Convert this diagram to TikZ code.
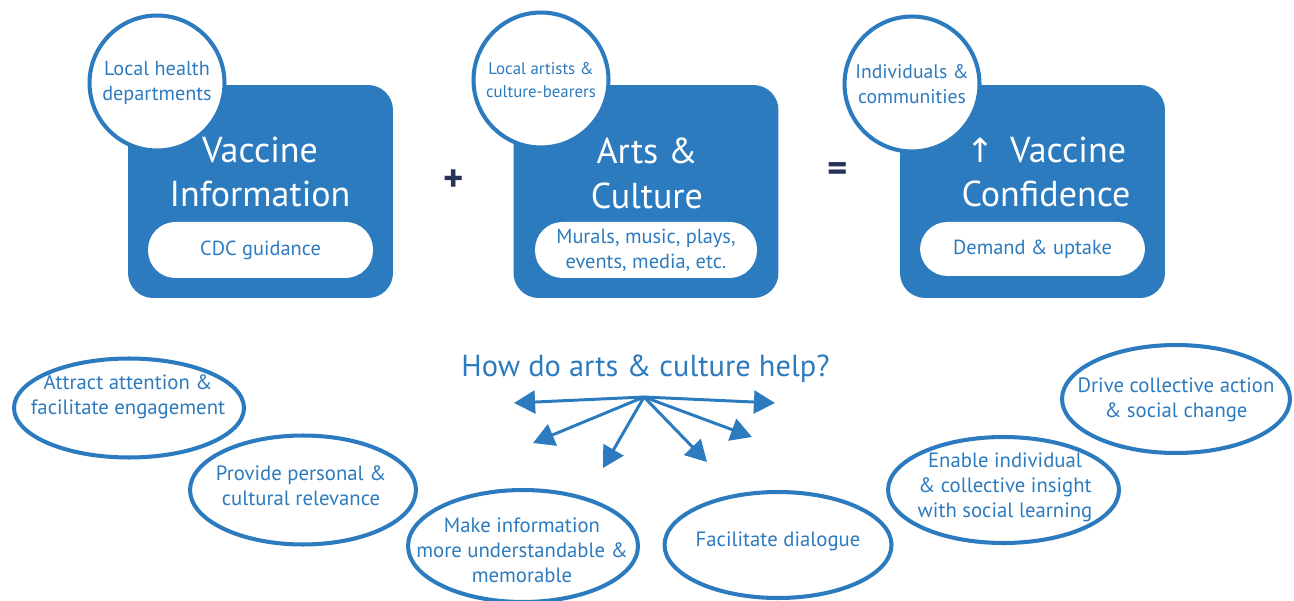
\documentclass[tikz,border=0pt]{standalone}
\usepackage{fontspec}
\setmainfont{PT Sans}
\newfontfamily\arrowfont{DejaVu Sans}
\usetikzlibrary{arrows.meta,positioning,shapes.geometric}
\definecolor{cblue}{RGB}{45,123,191}
\definecolor{cnavy}{RGB}{38,52,92}
\tikzset{
    %Define standard arrow tip
    >={Triangle[length=12pt,width=13pt]},
    %Define style for the blue boxes
    bigbox/.style={
           rectangle,
           rounded corners=0.5cm,
           fill=cblue,
           minimum width=5.3cm,
           minimum height=4.26cm,
           },
    boxtitle/.style={
           text=white,
           align=center,
           font=\fontsize{20.5}{25.5}\selectfont,
           },
    pill/.style={
           rectangle,
           rounded corners=0.55cm,
           fill=white,
           text=cblue,
           align=center,
           minimum width=4.5cm,
           minimum height=1.12cm,
           font=\fontsize{11.6}{14.2}\selectfont,
           },
    who/.style={
           circle,
           draw=cblue, line width=2.3pt,
           fill=white,
           text=cblue,
           align=center,
           minimum size=2.7cm,
           font=\fontsize{11.5}{14.2}\selectfont,
           },
    %Define style for the ellipses
    oval/.style={
           ellipse,
           draw=cblue, line width=2.3pt,
           fill=white,
           minimum width=4.6cm,
           minimum height=2.15cm,
           },
    ovaltext/.style={
           text=cblue,
           align=center,
           font=\fontsize{11.8}{14.2}\selectfont,
           },
    sign/.style={
           text=cnavy,
           font=\fontsize{22}{24}\selectfont\bfseries,
           },
    % Define arrow style
    pil/.style={
           ->,
           color=cblue,
           line width=1.7pt,},
}
\begin{document}
\begin{tikzpicture}[x=0.02cm,y=-0.02cm]
\useasboundingbox (0,0) rectangle (1294,601);
 %boxes
\node[bigbox] (vacbox) at (260.5,191.5) {};
\node[bigbox] (artbox) at (646,191.5) {};
\node[bigbox] (confbox) at (1032.5,191.5) {};
\node[boxtitle] (vactitle) at (260,172) {Vaccine\\Information};
\node[boxtitle] (arttitle) at (647,173) {Arts \&\\Culture};
\node[boxtitle] (conftitle) at (1046,172) {{\arrowfont\fontsize{19}{19}\selectfont ↑}\hspace{0.45em}Vaccine\\Confidence};
\node[pill, above=0.4cm of vacbox.south] (cdc) {CDC guidance};
\node[pill, above=0.4cm of artbox.south, minimum width=4.44cm] (murals) {Murals, music, plays,\\events, media, etc.};
\node[pill, above=0.44cm of confbox.south, minimum height=1.08cm] (demand) {Demand \& uptake};
 %circles
\node[who] (health) at (157,83) {Local health\\departments};
\node[who, font=\fontsize{9.6}{13}\selectfont] (artists) at (541,80) {Local artists \&\\culture-bearers};
\node[who, font=\fontsize{11.2}{14.2}\selectfont] (people) at (912,84) {Individuals \&\\communities};
\node[sign] (plus) at (454,181) {+};
\node[sign] (equals) at (838,172) {=};
 %question
\node[text=cblue, font=\fontsize{17.3}{20}\selectfont] (question) at (645.5,369) {How do arts \& culture help?};
\coordinate (hub) at (644,397);
\coordinate (tipl) at (514,403);
\coordinate (tipr) at (775,403);
\coordinate (tipll) at (533,443);
\coordinate (tipbl) at (603,468);
\coordinate (tipbr) at (707,462);
\coordinate (tiprr) at (752,437);
\path (hub) edge[pil] (tipl) edge[pil] (tipr) edge[pil] (tipll)
    edge[pil] (tipbl) edge[pil] (tipbr) edge[pil] (tiprr);
 %ellipses
\node[oval, minimum height=1.98cm] (attract) at (129,408) {};
\node[ovaltext] (attracttext) at (128,397) {Attract attention \&\\facilitate engagement};
\node[oval, minimum width=4.52cm, minimum height=2.18cm] (personal) at (303,490) {};
\node[ovaltext] (personaltext) at (301,486) {Provide personal \&\\cultural relevance};
\node[oval, minimum height=2.24cm] (memorable) at (523,546) {};
\node[ovaltext] (memorabletext) at (522,550) {Make information\\more understandable \&\\memorable};
\node[oval, minimum width=4.54cm, minimum height=2.12cm] (dialogue) at (778,545) {};
\node[ovaltext] (dialoguetext) at (778,541) {Facilitate dialogue};
\node[oval, minimum width=4.62cm, minimum height=2.12cm] (insight) at (1003.5,490) {};
\node[ovaltext] (insighttext) at (1005,487) {Enable individual\\\& collective insight\\with social learning};
\node[oval, minimum width=4.56cm, minimum height=2.16cm] (drive) at (1176,399) {};
\node[ovaltext] (drivetext) at (1176,400) {Drive collective action\\\& social change};
\end{tikzpicture}
\end{document}
